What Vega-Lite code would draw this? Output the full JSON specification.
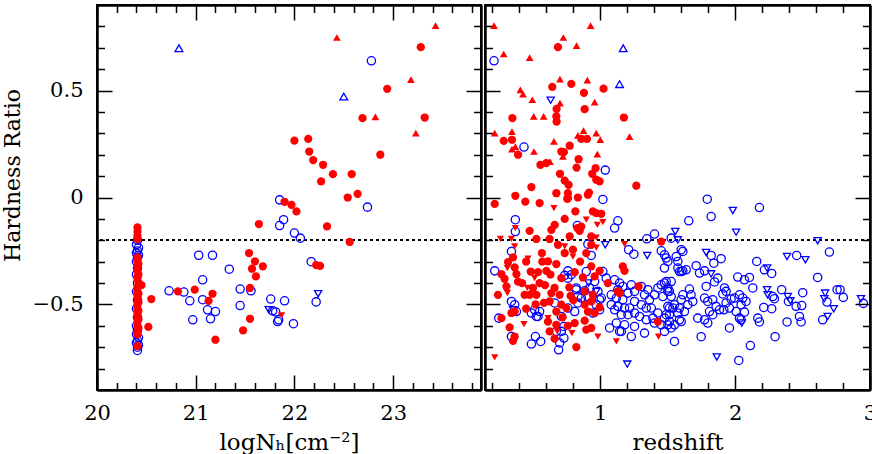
{
"$schema": "https://vega.github.io/schema/vega-lite/v6.json",
"padding": {"left": 0, "top": 0, "right": 0, "bottom": 0},
"background": "white",
"spacing": 0,
"config": {"view": {"stroke": "black", "strokeWidth": 2}, "axis": {"grid": false, "domainColor": "black", "domainWidth": 2, "ticks": true, "tickColor": "black", "tickWidth": 1.5, "tickOpacity": 1, "labelColor": "black", "labelFont": "DejaVu Serif", "labelFontSize": 21, "labelFlush": false, "labelOverlap": false, "labelBound": false, "titleFont": "DejaVu Serif", "titleColor": "black", "titleFontWeight": "normal"}},
"datasets": {
"nh": [
{"x":20.41,"y":-0.2,"g":"b","s":"o"},{"x":20.4,"y":-0.22,"g":"b","s":"o"},{"x":20.42,"y":-0.235,"g":"b","s":"o"},{"x":20.41,"y":-0.25,"g":"b","s":"o"},{"x":20.4,"y":-0.26,"g":"b","s":"o"},{"x":20.42,"y":-0.27,"g":"b","s":"o"},{"x":20.41,"y":-0.28,"g":"b","s":"o"},{"x":20.4,"y":-0.3,"g":"b","s":"o"},{"x":20.41,"y":-0.33,"g":"b","s":"o"},{"x":20.4,"y":-0.36,"g":"b","s":"o"},{"x":20.41,"y":-0.4,"g":"b","s":"o"},{"x":20.4,"y":-0.44,"g":"b","s":"o"},{"x":20.41,"y":-0.48,"g":"b","s":"o"},{"x":20.4,"y":-0.52,"g":"b","s":"o"},{"x":20.41,"y":-0.56,"g":"b","s":"o"},{"x":20.4,"y":-0.6,"g":"b","s":"o"},{"x":20.41,"y":-0.62,"g":"b","s":"o"},{"x":20.4,"y":-0.64,"g":"b","s":"o"},{"x":20.42,"y":-0.655,"g":"b","s":"o"},{"x":20.41,"y":-0.67,"g":"b","s":"o"},{"x":20.4,"y":-0.68,"g":"b","s":"o"},{"x":20.42,"y":-0.69,"g":"b","s":"o"},{"x":20.41,"y":-0.7,"g":"b","s":"o"},{"x":20.41,"y":-0.715,"g":"b","s":"o"},
{"x":21.85,"y":-0.011,"g":"b","s":"o"},{"x":21.89,"y":-0.104,"g":"b","s":"o"},{"x":21.85,"y":-0.131,"g":"b","s":"o"},{"x":22.0,"y":-0.166,"g":"b","s":"o"},{"x":22.06,"y":-0.19,"g":"b","s":"o"},{"x":21.03,"y":-0.27,"g":"b","s":"o"},{"x":21.17,"y":-0.27,"g":"b","s":"o"},{"x":21.34,"y":-0.335,"g":"b","s":"o"},{"x":21.07,"y":-0.385,"g":"b","s":"o"},{"x":20.73,"y":-0.436,"g":"b","s":"o"},{"x":20.88,"y":-0.442,"g":"b","s":"o"},{"x":20.94,"y":-0.483,"g":"b","s":"o"},{"x":21.07,"y":-0.478,"g":"b","s":"o"},{"x":21.12,"y":-0.525,"g":"b","s":"o"},{"x":21.2,"y":-0.533,"g":"b","s":"o"},{"x":20.97,"y":-0.572,"g":"b","s":"o"},{"x":21.15,"y":-0.567,"g":"b","s":"o"},{"x":21.45,"y":-0.428,"g":"b","s":"o"},{"x":21.56,"y":-0.436,"g":"b","s":"o"},{"x":21.45,"y":-0.505,"g":"b","s":"o"},{"x":21.76,"y":-0.475,"g":"b","s":"o"},{"x":21.9,"y":-0.483,"g":"b","s":"o"},{"x":21.78,"y":-0.53,"g":"b","s":"o"},{"x":21.81,"y":-0.535,"g":"b","s":"o"},{"x":21.83,"y":-0.58,"g":"b","s":"o"},{"x":21.84,"y":-0.572,"g":"b","s":"o"},{"x":21.99,"y":-0.59,"g":"b","s":"o"},{"x":22.78,"y":0.639,"g":"b","s":"o"},{"x":22.74,"y":-0.045,"g":"b","s":"o"},{"x":22.17,"y":-0.3,"g":"b","s":"o"},{"x":22.22,"y":-0.488,"g":"b","s":"o"},
{"x":20.83,"y":0.698,"g":"b","s":"u"},{"x":22.5,"y":0.472,"g":"b","s":"u"},
{"x":21.74,"y":-0.525,"g":"b","s":"d"},{"x":22.24,"y":-0.45,"g":"b","s":"d"},
{"x":20.41,"y":-0.14,"g":"r","s":"o"},{"x":20.41,"y":-0.16,"g":"r","s":"o"},{"x":20.41,"y":-0.18,"g":"r","s":"o"},{"x":20.41,"y":-0.195,"g":"r","s":"o"},{"x":20.41,"y":-0.28,"g":"r","s":"o"},{"x":20.41,"y":-0.3,"g":"r","s":"o"},{"x":20.42,"y":-0.31,"g":"r","s":"o"},{"x":20.41,"y":-0.33,"g":"r","s":"o"},{"x":20.41,"y":-0.34,"g":"r","s":"o"},{"x":20.42,"y":-0.36,"g":"r","s":"o"},{"x":20.41,"y":-0.37,"g":"r","s":"o"},{"x":20.41,"y":-0.38,"g":"r","s":"o"},{"x":20.42,"y":-0.4,"g":"r","s":"o"},{"x":20.45,"y":-0.41,"g":"r","s":"o"},{"x":20.41,"y":-0.42,"g":"r","s":"o"},{"x":20.41,"y":-0.44,"g":"r","s":"o"},{"x":20.42,"y":-0.45,"g":"r","s":"o"},{"x":20.41,"y":-0.46,"g":"r","s":"o"},{"x":20.41,"y":-0.48,"g":"r","s":"o"},{"x":20.42,"y":-0.49,"g":"r","s":"o"},{"x":20.41,"y":-0.5,"g":"r","s":"o"},{"x":20.41,"y":-0.52,"g":"r","s":"o"},{"x":20.42,"y":-0.53,"g":"r","s":"o"},{"x":20.41,"y":-0.54,"g":"r","s":"o"},{"x":20.41,"y":-0.56,"g":"r","s":"o"},{"x":20.42,"y":-0.57,"g":"r","s":"o"},{"x":20.41,"y":-0.58,"g":"r","s":"o"},{"x":20.41,"y":-0.6,"g":"r","s":"o"},{"x":20.42,"y":-0.61,"g":"r","s":"o"},{"x":20.41,"y":-0.63,"g":"r","s":"o"},{"x":20.41,"y":-0.64,"g":"r","s":"o"},{"x":20.41,"y":-0.695,"g":"r","s":"o"},
{"x":21.64,"y":-0.124,"g":"r","s":"o"},{"x":21.9,"y":-0.02,"g":"r","s":"o"},{"x":21.97,"y":-0.034,"g":"r","s":"o"},{"x":22.02,"y":-0.065,"g":"r","s":"o"},{"x":22.0,"y":0.266,"g":"r","s":"o"},{"x":21.54,"y":-0.26,"g":"r","s":"o"},{"x":20.82,"y":-0.439,"g":"r","s":"o"},{"x":20.99,"y":-0.431,"g":"r","s":"o"},{"x":21.13,"y":-0.483,"g":"r","s":"o"},{"x":21.17,"y":-0.45,"g":"r","s":"o"},{"x":21.2,"y":-0.665,"g":"r","s":"o"},{"x":21.55,"y":-0.423,"g":"r","s":"o"},{"x":21.6,"y":-0.299,"g":"r","s":"o"},{"x":21.57,"y":-0.333,"g":"r","s":"o"},{"x":21.68,"y":-0.322,"g":"r","s":"o"},{"x":21.61,"y":-0.369,"g":"r","s":"o"},{"x":21.55,"y":-0.567,"g":"r","s":"o"},{"x":21.48,"y":-0.621,"g":"r","s":"o"},{"x":20.55,"y":-0.475,"g":"r","s":"o"},{"x":20.52,"y":-0.605,"g":"r","s":"o"},{"x":23.28,"y":0.703,"g":"r","s":"o"},{"x":22.94,"y":0.508,"g":"r","s":"o"},{"x":22.69,"y":0.371,"g":"r","s":"o"},{"x":23.32,"y":0.374,"g":"r","s":"o"},{"x":22.14,"y":0.274,"g":"r","s":"o"},{"x":22.15,"y":0.215,"g":"r","s":"o"},{"x":22.19,"y":0.175,"g":"r","s":"o"},{"x":22.29,"y":0.153,"g":"r","s":"o"},{"x":22.87,"y":0.2,"g":"r","s":"o"},{"x":22.39,"y":0.109,"g":"r","s":"o"},{"x":22.58,"y":0.109,"g":"r","s":"o"},{"x":22.27,"y":0.075,"g":"r","s":"o"},{"x":22.64,"y":0.017,"g":"r","s":"o"},{"x":22.54,"y":0.0,"g":"r","s":"o"},{"x":22.33,"y":-0.135,"g":"r","s":"o"},{"x":22.56,"y":-0.208,"g":"r","s":"o"},{"x":22.22,"y":-0.316,"g":"r","s":"o"},{"x":22.26,"y":-0.32,"g":"r","s":"o"},
{"x":23.43,"y":0.804,"g":"r","s":"u"},{"x":22.43,"y":0.748,"g":"r","s":"u"},{"x":23.18,"y":0.551,"g":"r","s":"u"},{"x":22.82,"y":0.377,"g":"r","s":"u"},{"x":23.23,"y":0.301,"g":"r","s":"u"},
{"x":21.87,"y":-0.551,"g":"r","s":"d"}
],
"z": [
{"x":0.686,"y":0.703,"g":"r","s":"o"},{"x":0.644,"y":0.517,"g":"r","s":"o"},{"x":0.785,"y":0.531,"g":"r","s":"o"},{"x":0.879,"y":0.489,"g":"r","s":"o"},{"x":1.024,"y":0.509,"g":"r","s":"o"},{"x":0.676,"y":0.414,"g":"r","s":"o"},{"x":0.884,"y":0.413,"g":"r","s":"o"},{"x":0.348,"y":0.371,"g":"r","s":"o"},{"x":0.674,"y":0.379,"g":"r","s":"o"},{"x":0.676,"y":0.355,"g":"r","s":"o"},{"x":1.175,"y":0.374,"g":"r","s":"o"},{"x":0.859,"y":0.274,"g":"r","s":"o"},{"x":0.901,"y":0.274,"g":"r","s":"o"},{"x":0.284,"y":0.265,"g":"r","s":"o"},{"x":0.345,"y":0.27,"g":"r","s":"o"},{"x":0.39,"y":0.2,"g":"r","s":"o"},{"x":0.711,"y":0.215,"g":"r","s":"o"},{"x":0.73,"y":0.212,"g":"r","s":"o"},{"x":0.773,"y":0.242,"g":"r","s":"o"},{"x":0.839,"y":0.179,"g":"r","s":"o"},{"x":0.824,"y":0.14,"g":"r","s":"o"},{"x":0.556,"y":0.153,"g":"r","s":"o"},{"x":0.6,"y":0.161,"g":"r","s":"o"},{"x":0.965,"y":0.137,"g":"r","s":"o"},{"x":0.94,"y":0.111,"g":"r","s":"o"},{"x":0.97,"y":0.083,"g":"r","s":"o"},{"x":0.995,"y":0.075,"g":"r","s":"o"},{"x":0.701,"y":0.111,"g":"r","s":"o"},{"x":0.736,"y":0.079,"g":"r","s":"o"},{"x":0.765,"y":0.059,"g":"r","s":"o"},{"x":0.489,"y":0.049,"g":"r","s":"o"},{"x":1.267,"y":0.055,"g":"r","s":"o"},{"x":0.674,"y":0.02,"g":"r","s":"o"},{"x":0.76,"y":0.02,"g":"r","s":"o"},{"x":0.76,"y":-0.003,"g":"r","s":"o"},{"x":0.834,"y":0.0,"g":"r","s":"o"},{"x":0.916,"y":0.023,"g":"r","s":"o"},{"x":0.908,"y":0.013,"g":"r","s":"o"},{"x":0.37,"y":0.008,"g":"r","s":"o"},{"x":0.444,"y":-0.019,"g":"r","s":"o"},{"x":0.55,"y":-0.026,"g":"r","s":"o"},{"x":0.217,"y":-0.03,"g":"r","s":"o"},{"x":0.755,"y":-0.006,"g":"r","s":"o"},{"x":0.815,"y":-0.065,"g":"r","s":"o"},{"x":0.736,"y":-0.1,"g":"r","s":"o"},{"x":0.662,"y":-0.128,"g":"r","s":"o"},{"x":0.637,"y":-0.151,"g":"r","s":"o"},{"x":0.859,"y":-0.136,"g":"r","s":"o"},{"x":0.847,"y":-0.156,"g":"r","s":"o"},{"x":0.83,"y":-0.143,"g":"r","s":"o"},{"x":0.945,"y":-0.065,"g":"r","s":"o"},{"x":0.97,"y":-0.073,"g":"r","s":"o"},{"x":1.007,"y":-0.076,"g":"r","s":"o"},{"x":0.476,"y":-0.156,"g":"r","s":"o"},{"x":0.526,"y":-0.194,"g":"r","s":"o"},{"x":0.624,"y":-0.194,"g":"r","s":"o"},{"x":0.773,"y":-0.182,"g":"r","s":"o"},{"x":0.686,"y":-0.221,"g":"r","s":"o"},{"x":0.736,"y":-0.26,"g":"r","s":"o"},{"x":0.797,"y":-0.244,"g":"r","s":"o"},{"x":0.896,"y":-0.26,"g":"r","s":"o"},{"x":0.933,"y":-0.182,"g":"r","s":"o"},{"x":0.933,"y":-0.221,"g":"r","s":"o"},{"x":1.452,"y":-0.206,"g":"r","s":"o"},{"x":0.353,"y":-0.28,"g":"r","s":"o"},{"x":0.316,"y":-0.302,"g":"r","s":"o"},{"x":0.267,"y":-0.358,"g":"r","s":"o"},{"x":0.365,"y":-0.327,"g":"r","s":"o"},{"x":0.378,"y":-0.358,"g":"r","s":"o"},{"x":0.39,"y":-0.393,"g":"r","s":"o"},{"x":0.567,"y":-0.26,"g":"r","s":"o"},{"x":0.612,"y":-0.299,"g":"r","s":"o"},{"x":0.674,"y":-0.311,"g":"r","s":"o"},{"x":0.6,"y":-0.343,"g":"r","s":"o"},{"x":0.538,"y":-0.349,"g":"r","s":"o"},{"x":0.484,"y":-0.346,"g":"r","s":"o"},{"x":0.711,"y":-0.377,"g":"r","s":"o"},{"x":0.81,"y":-0.349,"g":"r","s":"o"},{"x":0.871,"y":-0.374,"g":"r","s":"o"},{"x":0.933,"y":-0.322,"g":"r","s":"o"},{"x":0.958,"y":-0.369,"g":"r","s":"o"},{"x":0.995,"y":-0.343,"g":"r","s":"o"},{"x":0.241,"y":-0.455,"g":"r","s":"o"},{"x":0.304,"y":-0.416,"g":"r","s":"o"},{"x":0.439,"y":-0.455,"g":"r","s":"o"},{"x":0.501,"y":-0.423,"g":"r","s":"o"},{"x":0.476,"y":-0.455,"g":"r","s":"o"},{"x":0.526,"y":-0.455,"g":"r","s":"o"},{"x":0.341,"y":-0.54,"g":"r","s":"o"},{"x":0.365,"y":-0.533,"g":"r","s":"o"},{"x":0.328,"y":-0.607,"g":"r","s":"o"},{"x":0.365,"y":-0.65,"g":"r","s":"o"},{"x":0.353,"y":-0.67,"g":"r","s":"o"},{"x":0.267,"y":-0.564,"g":"r","s":"o"},{"x":0.582,"y":-0.493,"g":"r","s":"o"},{"x":0.661,"y":-0.423,"g":"r","s":"o"},{"x":0.699,"y":-0.455,"g":"r","s":"o"},{"x":0.674,"y":-0.533,"g":"r","s":"o"},{"x":0.711,"y":-0.501,"g":"r","s":"o"},{"x":0.748,"y":-0.517,"g":"r","s":"o"},{"x":0.637,"y":-0.447,"g":"r","s":"o"},{"x":0.624,"y":-0.486,"g":"r","s":"o"},{"x":0.612,"y":-0.58,"g":"r","s":"o"},{"x":0.674,"y":-0.595,"g":"r","s":"o"},{"x":0.624,"y":-0.626,"g":"r","s":"o"},{"x":0.661,"y":-0.66,"g":"r","s":"o"},{"x":0.822,"y":-0.699,"g":"r","s":"o"},{"x":0.81,"y":-0.587,"g":"r","s":"o"},{"x":0.884,"y":-0.576,"g":"r","s":"o"},{"x":0.896,"y":-0.618,"g":"r","s":"o"},{"x":0.933,"y":-0.61,"g":"r","s":"o"},{"x":0.884,"y":-0.501,"g":"r","s":"o"},{"x":0.933,"y":-0.486,"g":"r","s":"o"},{"x":0.958,"y":-0.54,"g":"r","s":"o"},{"x":0.908,"y":-0.533,"g":"r","s":"o"},{"x":0.995,"y":-0.514,"g":"r","s":"o"},{"x":0.884,"y":-0.439,"g":"r","s":"o"},{"x":0.945,"y":-0.455,"g":"r","s":"o"},{"x":1.056,"y":-0.4,"g":"r","s":"o"},{"x":1.13,"y":-0.439,"g":"r","s":"o"},{"x":1.143,"y":-0.447,"g":"r","s":"o"},{"x":1.167,"y":-0.322,"g":"r","s":"o"},{"x":1.18,"y":-0.343,"g":"r","s":"o"},{"x":1.284,"y":-0.416,"g":"r","s":"o"},{"x":1.427,"y":-0.58,"g":"r","s":"o"},{"x":0.29,"y":-0.38,"g":"r","s":"o"},{"x":0.42,"y":-0.4,"g":"r","s":"o"},{"x":0.45,"y":-0.3,"g":"r","s":"o"},{"x":0.55,"y":-0.4,"g":"r","s":"o"},{"x":0.59,"y":-0.41,"g":"r","s":"o"},{"x":0.77,"y":-0.42,"g":"r","s":"o"},{"x":0.78,"y":-0.46,"g":"r","s":"o"},{"x":0.85,"y":-0.3,"g":"r","s":"o"},{"x":0.52,"y":-0.5,"g":"r","s":"o"},{"x":0.45,"y":-0.52,"g":"r","s":"o"},{"x":0.72,"y":-0.56,"g":"r","s":"o"},{"x":0.76,"y":-0.6,"g":"r","s":"o"},{"x":0.8,"y":-0.48,"g":"r","s":"o"},{"x":0.63,"y":-0.36,"g":"r","s":"o"},{"x":0.57,"y":-0.3,"g":"r","s":"o"},
{"x":0.212,"y":0.804,"g":"r","s":"u"},{"x":0.928,"y":0.804,"g":"r","s":"u"},{"x":0.726,"y":0.748,"g":"r","s":"u"},{"x":0.824,"y":0.71,"g":"r","s":"u"},{"x":0.284,"y":0.671,"g":"r","s":"u"},{"x":0.476,"y":0.654,"g":"r","s":"u"},{"x":0.701,"y":0.553,"g":"r","s":"u"},{"x":0.904,"y":0.549,"g":"r","s":"u"},{"x":0.407,"y":0.503,"g":"r","s":"u"},{"x":0.427,"y":0.483,"g":"r","s":"u"},{"x":0.496,"y":0.457,"g":"r","s":"u"},{"x":0.701,"y":0.441,"g":"r","s":"u"},{"x":0.958,"y":0.446,"g":"r","s":"u"},{"x":0.506,"y":0.379,"g":"r","s":"u"},{"x":0.58,"y":0.379,"g":"r","s":"u"},{"x":0.217,"y":0.301,"g":"r","s":"u"},{"x":0.345,"y":0.308,"g":"r","s":"u"},{"x":0.876,"y":0.313,"g":"r","s":"u"},{"x":0.97,"y":0.301,"g":"r","s":"u"},{"x":1.0,"y":0.271,"g":"r","s":"u"},{"x":1.217,"y":0.285,"g":"r","s":"u"},{"x":0.834,"y":0.29,"g":"r","s":"u"},{"x":0.656,"y":0.262,"g":"r","s":"u"},{"x":0.345,"y":0.226,"g":"r","s":"u"},{"x":0.37,"y":0.238,"g":"r","s":"u"},{"x":0.508,"y":0.215,"g":"r","s":"u"},{"x":0.723,"y":0.192,"g":"r","s":"u"},{"x":0.978,"y":0.203,"g":"r","s":"u"},{"x":0.627,"y":0.168,"g":"r","s":"u"},
{"x":0.656,"y":-0.05,"g":"r","s":"d"},{"x":0.896,"y":-0.104,"g":"r","s":"d"},{"x":0.978,"y":-0.128,"g":"r","s":"d"},{"x":1.019,"y":-0.115,"g":"r","s":"d"},{"x":0.37,"y":-0.143,"g":"r","s":"d"},{"x":0.259,"y":-0.194,"g":"r","s":"d"},{"x":0.341,"y":-0.194,"g":"r","s":"d"},{"x":0.365,"y":-0.229,"g":"r","s":"d"},{"x":0.736,"y":-0.229,"g":"r","s":"d"},{"x":0.797,"y":-0.276,"g":"r","s":"d"},{"x":1.18,"y":-0.218,"g":"r","s":"d"},{"x":0.311,"y":-0.33,"g":"r","s":"d"},{"x":0.464,"y":-0.286,"g":"r","s":"d"},{"x":0.513,"y":-0.377,"g":"r","s":"d"},{"x":0.459,"y":-0.423,"g":"r","s":"d"},{"x":0.311,"y":-0.447,"g":"r","s":"d"},{"x":0.434,"y":-0.592,"g":"r","s":"d"},{"x":0.612,"y":-0.564,"g":"r","s":"d"},{"x":0.681,"y":-0.626,"g":"r","s":"d"},{"x":0.79,"y":-0.634,"g":"r","s":"d"},{"x":0.982,"y":-0.65,"g":"r","s":"d"},{"x":1.119,"y":-0.673,"g":"r","s":"d"},{"x":1.432,"y":-0.65,"g":"r","s":"d"},{"x":0.217,"y":-0.748,"g":"r","s":"d"},{"x":0.97,"y":-0.234,"g":"r","s":"d"},{"x":0.97,"y":-0.187,"g":"r","s":"d"},
{"x":0.212,"y":0.639,"g":"b","s":"o"},{"x":0.434,"y":0.236,"g":"b","s":"o"},{"x":1.037,"y":0.128,"g":"b","s":"o"},{"x":1.019,"y":-0.009,"g":"b","s":"o"},{"x":0.37,"y":-0.104,"g":"b","s":"o"},{"x":0.37,"y":-0.159,"g":"b","s":"o"},{"x":0.83,"y":-0.131,"g":"b","s":"o"},{"x":1.106,"y":-0.143,"g":"b","s":"o"},{"x":1.13,"y":-0.109,"g":"b","s":"o"},{"x":0.908,"y":-0.218,"g":"b","s":"o"},{"x":0.933,"y":-0.271,"g":"b","s":"o"},{"x":1.21,"y":-0.244,"g":"b","s":"o"},{"x":1.249,"y":-0.265,"g":"b","s":"o"},{"x":1.345,"y":-0.193,"g":"b","s":"o"},{"x":1.402,"y":-0.171,"g":"b","s":"o"},{"x":1.526,"y":-0.19,"g":"b","s":"o"},{"x":0.341,"y":-0.252,"g":"b","s":"o"},{"x":0.217,"y":-0.343,"g":"b","s":"o"},{"x":0.736,"y":-0.364,"g":"b","s":"o"},{"x":0.76,"y":-0.343,"g":"b","s":"o"},{"x":0.785,"y":-0.361,"g":"b","s":"o"},{"x":0.341,"y":-0.486,"g":"b","s":"o"},{"x":0.365,"y":-0.501,"g":"b","s":"o"},{"x":0.378,"y":-0.533,"g":"b","s":"o"},{"x":0.341,"y":-0.65,"g":"b","s":"o"},{"x":0.247,"y":-0.564,"g":"b","s":"o"},{"x":0.489,"y":-0.54,"g":"b","s":"o"},{"x":0.526,"y":-0.556,"g":"b","s":"o"},{"x":0.513,"y":-0.525,"g":"b","s":"o"},{"x":0.519,"y":-0.65,"g":"b","s":"o"},{"x":0.558,"y":-0.673,"g":"b","s":"o"},{"x":0.489,"y":-0.685,"g":"b","s":"o"},{"x":0.661,"y":-0.493,"g":"b","s":"o"},{"x":0.711,"y":-0.556,"g":"b","s":"o"},{"x":0.73,"y":-0.603,"g":"b","s":"o"},{"x":0.711,"y":-0.626,"g":"b","s":"o"},{"x":0.73,"y":-0.657,"g":"b","s":"o"},{"x":0.699,"y":-0.68,"g":"b","s":"o"},{"x":0.691,"y":-0.712,"g":"b","s":"o"},{"x":0.822,"y":-0.431,"g":"b","s":"o"},{"x":0.884,"y":-0.436,"g":"b","s":"o"},{"x":0.859,"y":-0.47,"g":"b","s":"o"},{"x":0.834,"y":-0.493,"g":"b","s":"o"},{"x":0.982,"y":-0.439,"g":"b","s":"o"},{"x":0.995,"y":-0.478,"g":"b","s":"o"},{"x":1.069,"y":-0.61,"g":"b","s":"o"},{"x":1.143,"y":-0.626,"g":"b","s":"o"},{"x":1.156,"y":-0.626,"g":"b","s":"o"},{"x":1.23,"y":-0.65,"g":"b","s":"o"},{"x":1.55,"y":-0.673,"g":"b","s":"o"},
{"x":1.793,"y":-0.008,"g":"b","s":"o"},{"x":2.18,"y":-0.047,"g":"b","s":"o"},{"x":1.822,"y":-0.089,"g":"b","s":"o"},{"x":1.656,"y":-0.109,"g":"b","s":"o"},{"x":2.699,"y":-0.255,"g":"b","s":"o"},{"x":2.456,"y":-0.271,"g":"b","s":"o"},{"x":2.612,"y":-0.374,"g":"b","s":"o"},{"x":1.612,"y":-0.252,"g":"b","s":"o"},{"x":1.563,"y":-0.276,"g":"b","s":"o"},{"x":1.575,"y":-0.299,"g":"b","s":"o"},{"x":1.501,"y":-0.299,"g":"b","s":"o"},{"x":1.476,"y":-0.268,"g":"b","s":"o"},{"x":1.822,"y":-0.271,"g":"b","s":"o"},{"x":1.842,"y":-0.307,"g":"b","s":"o"},{"x":1.896,"y":-0.286,"g":"b","s":"o"},{"x":2.16,"y":-0.299,"g":"b","s":"o"},{"x":2.217,"y":-0.338,"g":"b","s":"o"},{"x":2.271,"y":-0.355,"g":"b","s":"o"},{"x":1.711,"y":-0.319,"g":"b","s":"o"},{"x":1.736,"y":-0.353,"g":"b","s":"o"},{"x":1.773,"y":-0.343,"g":"b","s":"o"},{"x":1.587,"y":-0.346,"g":"b","s":"o"},{"x":1.612,"y":-0.343,"g":"b","s":"o"},{"x":1.637,"y":-0.338,"g":"b","s":"o"},{"x":1.526,"y":-0.393,"g":"b","s":"o"},{"x":1.501,"y":-0.423,"g":"b","s":"o"},{"x":1.513,"y":-0.439,"g":"b","s":"o"},{"x":1.476,"y":-0.4,"g":"b","s":"o"},{"x":1.871,"y":-0.377,"g":"b","s":"o"},{"x":1.847,"y":-0.395,"g":"b","s":"o"},{"x":1.785,"y":-0.416,"g":"b","s":"o"},{"x":2.019,"y":-0.372,"g":"b","s":"o"},{"x":2.069,"y":-0.385,"g":"b","s":"o"},{"x":2.106,"y":-0.374,"g":"b","s":"o"},{"x":2.131,"y":-0.423,"g":"b","s":"o"},{"x":1.921,"y":-0.423,"g":"b","s":"o"},{"x":1.933,"y":-0.439,"g":"b","s":"o"},{"x":1.908,"y":-0.451,"g":"b","s":"o"},{"x":1.661,"y":-0.428,"g":"b","s":"o"},{"x":1.673,"y":-0.455,"g":"b","s":"o"},{"x":1.612,"y":-0.455,"g":"b","s":"o"},{"x":2.279,"y":-0.463,"g":"b","s":"o"},{"x":2.291,"y":-0.473,"g":"b","s":"o"},{"x":2.345,"y":-0.431,"g":"b","s":"o"},{"x":2.395,"y":-0.486,"g":"b","s":"o"},{"x":2.501,"y":-0.445,"g":"b","s":"o"},{"x":2.681,"y":-0.489,"g":"b","s":"o"},{"x":2.756,"y":-0.431,"g":"b","s":"o"},{"x":2.778,"y":-0.431,"g":"b","s":"o"},{"x":2.802,"y":-0.467,"g":"b","s":"o"},{"x":2.951,"y":-0.495,"g":"b","s":"o"},{"x":2.649,"y":-0.572,"g":"b","s":"o"},{"x":2.452,"y":-0.509,"g":"b","s":"o"},{"x":2.494,"y":-0.505,"g":"b","s":"o"},{"x":2.477,"y":-0.556,"g":"b","s":"o"},{"x":2.489,"y":-0.582,"g":"b","s":"o"},{"x":2.385,"y":-0.582,"g":"b","s":"o"},{"x":2.212,"y":-0.514,"g":"b","s":"o"},{"x":2.271,"y":-0.52,"g":"b","s":"o"},{"x":2.168,"y":-0.564,"g":"b","s":"o"},{"x":2.18,"y":-0.582,"g":"b","s":"o"},{"x":2.296,"y":-0.651,"g":"b","s":"o"},{"x":2.113,"y":-0.692,"g":"b","s":"o"},{"x":2.027,"y":-0.762,"g":"b","s":"o"},{"x":1.748,"y":-0.651,"g":"b","s":"o"},{"x":1.958,"y":-0.61,"g":"b","s":"o"},{"x":1.97,"y":-0.475,"g":"b","s":"o"},{"x":1.995,"y":-0.47,"g":"b","s":"o"},{"x":2.032,"y":-0.455,"g":"b","s":"o"},{"x":2.056,"y":-0.47,"g":"b","s":"o"},{"x":2.081,"y":-0.486,"g":"b","s":"o"},{"x":2.044,"y":-0.501,"g":"b","s":"o"},{"x":2.007,"y":-0.533,"g":"b","s":"o"},{"x":2.032,"y":-0.564,"g":"b","s":"o"},{"x":2.069,"y":-0.536,"g":"b","s":"o"},{"x":2.044,"y":-0.572,"g":"b","s":"o"},{"x":1.773,"y":-0.47,"g":"b","s":"o"},{"x":1.797,"y":-0.486,"g":"b","s":"o"},{"x":1.834,"y":-0.478,"g":"b","s":"o"},{"x":1.859,"y":-0.509,"g":"b","s":"o"},{"x":1.884,"y":-0.525,"g":"b","s":"o"},{"x":1.916,"y":-0.525,"g":"b","s":"o"},{"x":1.933,"y":-0.493,"g":"b","s":"o"},{"x":1.958,"y":-0.517,"g":"b","s":"o"},{"x":1.81,"y":-0.533,"g":"b","s":"o"},{"x":1.834,"y":-0.548,"g":"b","s":"o"},{"x":1.773,"y":-0.572,"g":"b","s":"o"},{"x":1.723,"y":-0.564,"g":"b","s":"o"},{"x":1.797,"y":-0.587,"g":"b","s":"o"},{"x":1.686,"y":-0.486,"g":"b","s":"o"},{"x":1.649,"y":-0.501,"g":"b","s":"o"},{"x":1.624,"y":-0.533,"g":"b","s":"o"},{"x":1.575,"y":-0.54,"g":"b","s":"o"},{"x":1.587,"y":-0.572,"g":"b","s":"o"},{"x":1.538,"y":-0.517,"g":"b","s":"o"},{"x":1.501,"y":-0.509,"g":"b","s":"o"},{"x":1.513,"y":-0.548,"g":"b","s":"o"},{"x":1.476,"y":-0.564,"g":"b","s":"o"},{"x":1.501,"y":-0.595,"g":"b","s":"o"},{"x":1.526,"y":-0.61,"g":"b","s":"o"},{"x":1.476,"y":-0.626,"g":"b","s":"o"},
{"x":1.452,"y":-0.249,"g":"b","s":"o"},{"x":1.489,"y":-0.283,"g":"b","s":"o"},{"x":1.476,"y":-0.33,"g":"b","s":"o"},{"x":1.575,"y":-0.33,"g":"b","s":"o"},{"x":1.6,"y":-0.346,"g":"b","s":"o"},{"x":1.6,"y":-0.244,"g":"b","s":"o"},{"x":1.019,"y":-0.346,"g":"b","s":"o"},{"x":1.044,"y":-0.377,"g":"b","s":"o"},{"x":1.106,"y":-0.385,"g":"b","s":"o"},{"x":1.143,"y":-0.4,"g":"b","s":"o"},{"x":1.167,"y":-0.416,"g":"b","s":"o"},{"x":1.13,"y":-0.431,"g":"b","s":"o"},{"x":1.081,"y":-0.455,"g":"b","s":"o"},{"x":1.119,"y":-0.47,"g":"b","s":"o"},{"x":1.167,"y":-0.478,"g":"b","s":"o"},{"x":1.205,"y":-0.447,"g":"b","s":"o"},{"x":1.254,"y":-0.439,"g":"b","s":"o"},{"x":1.23,"y":-0.408,"g":"b","s":"o"},{"x":1.304,"y":-0.416,"g":"b","s":"o"},{"x":1.328,"y":-0.455,"g":"b","s":"o"},{"x":1.353,"y":-0.431,"g":"b","s":"o"},{"x":1.365,"y":-0.478,"g":"b","s":"o"},{"x":1.402,"y":-0.455,"g":"b","s":"o"},{"x":1.427,"y":-0.423,"g":"b","s":"o"},{"x":1.452,"y":-0.408,"g":"b","s":"o"},{"x":1.489,"y":-0.393,"g":"b","s":"o"},{"x":1.501,"y":-0.439,"g":"b","s":"o"},{"x":1.464,"y":-0.463,"g":"b","s":"o"},{"x":1.526,"y":-0.463,"g":"b","s":"o"},{"x":1.55,"y":-0.501,"g":"b","s":"o"},{"x":1.587,"y":-0.517,"g":"b","s":"o"},{"x":1.6,"y":-0.478,"g":"b","s":"o"},{"x":1.513,"y":-0.517,"g":"b","s":"o"},{"x":1.489,"y":-0.548,"g":"b","s":"o"},{"x":1.427,"y":-0.54,"g":"b","s":"o"},{"x":1.39,"y":-0.564,"g":"b","s":"o"},{"x":1.341,"y":-0.572,"g":"b","s":"o"},{"x":1.291,"y":-0.556,"g":"b","s":"o"},{"x":1.254,"y":-0.54,"g":"b","s":"o"},{"x":1.205,"y":-0.548,"g":"b","s":"o"},{"x":1.156,"y":-0.548,"g":"b","s":"o"},{"x":1.106,"y":-0.525,"g":"b","s":"o"},{"x":1.081,"y":-0.501,"g":"b","s":"o"},{"x":1.13,"y":-0.509,"g":"b","s":"o"},{"x":1.18,"y":-0.517,"g":"b","s":"o"},{"x":1.217,"y":-0.517,"g":"b","s":"o"},{"x":1.254,"y":-0.486,"g":"b","s":"o"},{"x":1.304,"y":-0.501,"g":"b","s":"o"},{"x":1.341,"y":-0.517,"g":"b","s":"o"},{"x":1.378,"y":-0.517,"g":"b","s":"o"},{"x":1.402,"y":-0.587,"g":"b","s":"o"},{"x":1.452,"y":-0.595,"g":"b","s":"o"},{"x":1.513,"y":-0.58,"g":"b","s":"o"},{"x":1.55,"y":-0.595,"g":"b","s":"o"},{"x":1.6,"y":-0.58,"g":"b","s":"o"},{"x":1.328,"y":-0.634,"g":"b","s":"o"},{"x":1.254,"y":-0.603,"g":"b","s":"o"},{"x":1.18,"y":-0.595,"g":"b","s":"o"},{"x":1.119,"y":-0.587,"g":"b","s":"o"},{"x":0.76,"y":-0.377,"g":"b","s":"o"},{"x":0.822,"y":-0.423,"g":"b","s":"o"},{"x":0.834,"y":-0.463,"g":"b","s":"o"},{"x":0.81,"y":-0.533,"g":"b","s":"o"},{"x":0.76,"y":-0.517,"g":"b","s":"o"},{"x":0.55,"y":-0.533,"g":"b","s":"o"},{"x":0.538,"y":-0.556,"g":"b","s":"o"},{"x":0.674,"y":-0.626,"g":"b","s":"o"},{"x":0.896,"y":-0.346,"g":"b","s":"o"},{"x":0.958,"y":-0.393,"g":"b","s":"o"},{"x":0.921,"y":-0.423,"g":"b","s":"o"},{"x":0.908,"y":-0.463,"g":"b","s":"o"},{"x":1.007,"y":-0.47,"g":"b","s":"o"},{"x":0.97,"y":-0.501,"g":"b","s":"o"},{"x":0.995,"y":-0.525,"g":"b","s":"o"},{"x":0.945,"y":-0.54,"g":"b","s":"o"},
{"x":1.17,"y":0.698,"g":"b","s":"u"},{"x":1.143,"y":0.53,"g":"b","s":"u"},
{"x":0.632,"y":0.455,"g":"b","s":"d"},{"x":1.037,"y":-0.221,"g":"b","s":"d"},{"x":1.348,"y":-0.271,"g":"b","s":"d"},{"x":1.556,"y":-0.159,"g":"b","s":"d"},{"x":1.575,"y":-0.198,"g":"b","s":"d"},{"x":0.353,"y":-0.525,"g":"b","s":"d"},{"x":0.913,"y":-0.4,"g":"b","s":"d"},{"x":1.2,"y":-0.779,"g":"b","s":"d"},{"x":1.983,"y":-0.061,"g":"b","s":"d"},{"x":2.007,"y":-0.162,"g":"b","s":"d"},{"x":2.612,"y":-0.202,"g":"b","s":"d"},{"x":2.385,"y":-0.276,"g":"b","s":"d"},{"x":2.521,"y":-0.291,"g":"b","s":"d"},{"x":1.785,"y":-0.257,"g":"b","s":"d"},{"x":2.237,"y":-0.33,"g":"b","s":"d"},{"x":1.822,"y":-0.357,"g":"b","s":"d"},{"x":2.237,"y":-0.431,"g":"b","s":"d"},{"x":2.241,"y":-0.455,"g":"b","s":"d"},{"x":2.39,"y":-0.463,"g":"b","s":"d"},{"x":2.41,"y":-0.483,"g":"b","s":"d"},{"x":2.667,"y":-0.447,"g":"b","s":"d"},{"x":2.661,"y":-0.473,"g":"b","s":"d"},{"x":2.933,"y":-0.473,"g":"b","s":"d"},{"x":2.731,"y":-0.52,"g":"b","s":"d"},{"x":2.686,"y":-0.556,"g":"b","s":"d"},{"x":2.049,"y":-0.587,"g":"b","s":"d"},{"x":1.864,"y":-0.746,"g":"b","s":"d"},{"x":0.97,"y":-0.439,"g":"b","s":"d"}
]
},
"hconcat": [
{
"width": 384, "height": 385,
"data": {"name": "nh"},
"resolve": {"axis": {"x": "independent", "y": "independent"}},
"layer": [
{"mark": {"type": "rule", "color": "black", "strokeWidth": 1.4, "strokeDash": [2.5, 3.5]},
 "encoding": {"y": {"datum": -0.2, "type": "quantitative", "scale": {"domain": [-0.9, 0.9], "nice": false, "zero": false}, "axis": null}}},
{"transform": [{"filter": "datum.g == 'b'"}],
 "mark": {"type": "point", "filled": false, "color": "#0000ff", "strokeWidth": 1.3, "opacity": 1},
 "encoding": {
  "x": {"field": "x", "type": "quantitative", "scale": {"domain": [20, 23.89], "nice": false, "zero": false}, "axis": {"orient": "bottom", "values": [20, 21, 22, 23], "ticks": true, "tickSize": -15, "domain": true, "labelPadding": 27, "format": "d", "title": "logNₕ[cm⁻²]", "titleFontSize": 23, "titleY": 59, "titleBaseline": "alphabetic"}},
  "y": {"field": "y", "type": "quantitative", "scale": {"domain": [-0.9, 0.9], "nice": false, "zero": false}, "axis": {"orient": "left", "values": [-0.5, 0, 0.5], "ticks": true, "tickSize": -15, "domain": true, "labelPadding": 29, "format": "~g", "title": "Hardness Ratio", "titleFontSize": 22, "titleX": -78, "titleY": 170, "titleAngle": 270, "titleBaseline": "alphabetic", "titleAlign": "center"}},
  "shape": {"field": "s", "type": "nominal", "scale": {"domain": ["o", "u", "d"], "range": ["circle", "triangle-up", "triangle-down"]}, "legend": null},
  "size": {"field": "s", "type": "nominal", "scale": {"domain": ["o", "u", "d"], "range": [68, 52, 52]}, "legend": null}
 }},
{"transform": [{"filter": "datum.g == 'r'"}],
 "mark": {"type": "point", "filled": true, "color": "#ff0000", "opacity": 1},
 "encoding": {
  "x": {"field": "x", "type": "quantitative", "scale": {"domain": [20, 23.89], "nice": false, "zero": false}, "axis": null},
  "y": {"field": "y", "type": "quantitative", "scale": {"domain": [-0.9, 0.9], "nice": false, "zero": false}, "axis": null},
  "shape": {"field": "s", "type": "nominal", "scale": {"domain": ["o", "u", "d"], "range": ["circle", "triangle-up", "triangle-down"]}, "legend": null},
  "size": {"field": "s", "type": "nominal", "scale": {"domain": ["o", "u", "d"], "range": [76, 52, 52]}, "legend": null}
 }},
{"mark": {"type": "point", "opacity": 0},
 "encoding": {
  "x": {"field": "x", "type": "quantitative", "scale": {"domain": [20, 23.89], "nice": false, "zero": false}, "axis": {"orient": "bottom", "values": [20.2, 20.4, 20.6, 20.8, 21.2, 21.4, 21.6, 21.8, 22.2, 22.4, 22.6, 22.8, 23.2, 23.4, 23.6, 23.8], "ticks": true, "tickSize": -7.5, "domain": true, "labels": true, "labelExpr": "' '", "labelPadding": -10, "title": null}},
  "y": {"field": "y", "type": "quantitative", "scale": {"domain": [-0.9, 0.9], "nice": false, "zero": false}, "axis": {"orient": "left", "values": [-0.8, -0.7, -0.6, -0.4, -0.3, -0.2, -0.1, 0.1, 0.2, 0.3, 0.4, 0.6, 0.7, 0.8], "ticks": true, "tickSize": -7.5, "domain": true, "labels": true, "labelExpr": "' '", "labelPadding": -10, "title": null}}
 }},
{"mark": {"type": "point", "opacity": 0},
 "encoding": {
  "x": {"field": "x", "type": "quantitative", "scale": {"domain": [20, 23.89], "nice": false, "zero": false}, "axis": {"orient": "top", "values": [20, 21, 22, 23], "ticks": true, "tickSize": -15, "domain": true, "labels": true, "labelExpr": "' '", "labelPadding": -10, "title": null}},
  "y": {"field": "y", "type": "quantitative", "scale": {"domain": [-0.9, 0.9], "nice": false, "zero": false}, "axis": {"orient": "right", "values": [-0.5, 0, 0.5], "ticks": true, "tickSize": -15, "domain": true, "labels": true, "labelExpr": "' '", "labelPadding": -10, "title": null}}
 }},
{"mark": {"type": "point", "opacity": 0},
 "encoding": {
  "x": {"field": "x", "type": "quantitative", "scale": {"domain": [20, 23.89], "nice": false, "zero": false}, "axis": {"orient": "top", "values": [20.2, 20.4, 20.6, 20.8, 21.2, 21.4, 21.6, 21.8, 22.2, 22.4, 22.6, 22.8, 23.2, 23.4, 23.6, 23.8], "ticks": true, "tickSize": -7.5, "domain": true, "labels": true, "labelExpr": "' '", "labelPadding": -10, "title": null}},
  "y": {"field": "y", "type": "quantitative", "scale": {"domain": [-0.9, 0.9], "nice": false, "zero": false}, "axis": {"orient": "right", "values": [-0.8, -0.7, -0.6, -0.4, -0.3, -0.2, -0.1, 0.1, 0.2, 0.3, 0.4, 0.6, 0.7, 0.8], "ticks": true, "tickSize": -7.5, "domain": true, "labels": true, "labelExpr": "' '", "labelPadding": -10, "title": null}}
 }}
]
},
{
"width": 385, "height": 385,
"data": {"name": "z"},
"resolve": {"axis": {"x": "independent", "y": "independent"}},
"layer": [
{"mark": {"type": "rule", "color": "black", "strokeWidth": 1.4, "strokeDash": [2.5, 3.5]},
 "encoding": {"y": {"datum": -0.2, "type": "quantitative", "scale": {"domain": [-0.9, 0.9], "nice": false, "zero": false}, "axis": null}}},
{"transform": [{"filter": "datum.g == 'b'"}],
 "mark": {"type": "point", "filled": false, "color": "#0000ff", "strokeWidth": 1.3, "opacity": 1},
 "encoding": {
  "x": {"field": "x", "type": "quantitative", "scale": {"domain": [0.145, 3], "nice": false, "zero": false}, "axis": {"orient": "bottom", "values": [1, 2, 3], "ticks": true, "tickSize": -15, "domain": true, "labelPadding": 27, "format": "d", "title": "redshift", "titleFontSize": 23, "titleY": 59, "titleBaseline": "alphabetic"}},
  "y": {"field": "y", "type": "quantitative", "scale": {"domain": [-0.9, 0.9], "nice": false, "zero": false}, "axis": {"orient": "left", "values": [-0.5, 0, 0.5], "ticks": true, "tickSize": -15, "domain": true, "labels": true, "labelExpr": "' '", "labelPadding": -10, "title": null}},
  "shape": {"field": "s", "type": "nominal", "scale": {"domain": ["o", "u", "d"], "range": ["circle", "triangle-up", "triangle-down"]}, "legend": null},
  "size": {"field": "s", "type": "nominal", "scale": {"domain": ["o", "u", "d"], "range": [68, 52, 52]}, "legend": null}
 }},
{"transform": [{"filter": "datum.g == 'r'"}],
 "mark": {"type": "point", "filled": true, "color": "#ff0000", "opacity": 1},
 "encoding": {
  "x": {"field": "x", "type": "quantitative", "scale": {"domain": [0.145, 3], "nice": false, "zero": false}, "axis": null},
  "y": {"field": "y", "type": "quantitative", "scale": {"domain": [-0.9, 0.9], "nice": false, "zero": false}, "axis": null},
  "shape": {"field": "s", "type": "nominal", "scale": {"domain": ["o", "u", "d"], "range": ["circle", "triangle-up", "triangle-down"]}, "legend": null},
  "size": {"field": "s", "type": "nominal", "scale": {"domain": ["o", "u", "d"], "range": [76, 52, 52]}, "legend": null}
 }},
{"mark": {"type": "point", "opacity": 0},
 "encoding": {
  "x": {"field": "x", "type": "quantitative", "scale": {"domain": [0.145, 3], "nice": false, "zero": false}, "axis": {"orient": "bottom", "values": [0.2, 0.4, 0.6, 0.8, 1.2, 1.4, 1.6, 1.8, 2.2, 2.4, 2.6, 2.8], "ticks": true, "tickSize": -7.5, "domain": true, "labels": true, "labelExpr": "' '", "labelPadding": -10, "title": null}},
  "y": {"field": "y", "type": "quantitative", "scale": {"domain": [-0.9, 0.9], "nice": false, "zero": false}, "axis": {"orient": "left", "values": [-0.8, -0.7, -0.6, -0.4, -0.3, -0.2, -0.1, 0.1, 0.2, 0.3, 0.4, 0.6, 0.7, 0.8], "ticks": true, "tickSize": -7.5, "domain": true, "labels": true, "labelExpr": "' '", "labelPadding": -10, "title": null}}
 }},
{"mark": {"type": "point", "opacity": 0},
 "encoding": {
  "x": {"field": "x", "type": "quantitative", "scale": {"domain": [0.145, 3], "nice": false, "zero": false}, "axis": {"orient": "top", "values": [1, 2, 3], "ticks": true, "tickSize": -15, "domain": true, "labels": true, "labelExpr": "' '", "labelPadding": -10, "title": null}},
  "y": {"field": "y", "type": "quantitative", "scale": {"domain": [-0.9, 0.9], "nice": false, "zero": false}, "axis": {"orient": "right", "values": [-0.5, 0, 0.5], "ticks": true, "tickSize": -15, "domain": true, "labels": true, "labelExpr": "' '", "labelPadding": -10, "title": null}}
 }},
{"mark": {"type": "point", "opacity": 0},
 "encoding": {
  "x": {"field": "x", "type": "quantitative", "scale": {"domain": [0.145, 3], "nice": false, "zero": false}, "axis": {"orient": "top", "values": [0.2, 0.4, 0.6, 0.8, 1.2, 1.4, 1.6, 1.8, 2.2, 2.4, 2.6, 2.8], "ticks": true, "tickSize": -7.5, "domain": true, "labels": true, "labelExpr": "' '", "labelPadding": -10, "title": null}},
  "y": {"field": "y", "type": "quantitative", "scale": {"domain": [-0.9, 0.9], "nice": false, "zero": false}, "axis": {"orient": "right", "values": [-0.8, -0.7, -0.6, -0.4, -0.3, -0.2, -0.1, 0.1, 0.2, 0.3, 0.4, 0.6, 0.7, 0.8], "ticks": true, "tickSize": -7.5, "domain": true, "labels": true, "labelExpr": "' '", "labelPadding": -10, "title": null}}
 }}
]
}
]
}
